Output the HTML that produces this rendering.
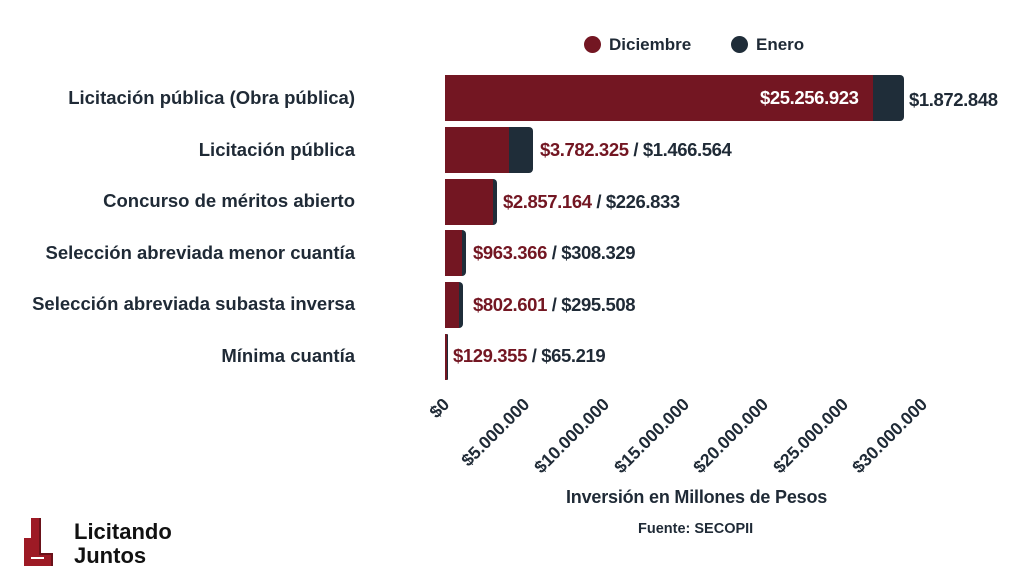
<!DOCTYPE html>
<html><head><meta charset="utf-8"><style>
body{margin:0;width:1024px;height:576px;background:#fff;font-family:"Liberation Sans",sans-serif;font-weight:bold;color:#1f2a36;position:relative;overflow:hidden}
.a{position:absolute;white-space:nowrap}
.lab{right:669px;font-size:18.5px;text-align:right}
.bar{position:absolute;left:445px;height:46px;background:#731622}
.en{position:absolute;height:46px;background:#1f2d39;border-radius:0 4px 4px 0}
.val{font-size:18.5px;letter-spacing:-0.4px}
.r{color:#731622}
.t{font-size:17.5px;transform-origin:100% 50%;transform:rotate(-45deg);text-align:right}
</style></head><body>
<div class="a" style="left:584px;top:36px;width:17px;height:17px;border-radius:50%;background:#731622"></div>
<div class="a" style="left:609px;top:35px;font-size:17px">Diciembre</div>
<div class="a" style="left:731px;top:36px;width:17px;height:17px;border-radius:50%;background:#1f2d39"></div>
<div class="a" style="left:756px;top:35px;font-size:17px">Enero</div>

<div class="a lab" style="top:87px">Licitación pública (Obra pública)</div>
<div class="a lab" style="top:139px">Licitación pública</div>
<div class="a lab" style="top:190px">Concurso de méritos abierto</div>
<div class="a lab" style="top:242px">Selección abreviada menor cuantía</div>
<div class="a lab" style="top:293px">Selección abreviada subasta inversa</div>
<div class="a lab" style="top:345px">Mínima cuantía</div>

<div class="bar" style="top:75px;width:428px"></div><div class="en" style="top:75px;left:873px;width:31px"></div>
<div class="a val" style="top:87px;left:760px;color:#fff">$25.256.923</div>
<div class="a val" style="top:89px;left:909px">$1.872.848</div>

<div class="bar" style="top:127px;width:64px"></div><div class="en" style="top:127px;left:509px;width:24px"></div>
<div class="a val" style="top:139px;left:540px"><span class="r">$3.782.325</span> / $1.466.564</div>

<div class="bar" style="top:179px;width:48px"></div><div class="en" style="top:179px;left:493px;width:4px"></div>
<div class="a val" style="top:191px;left:503px"><span class="r">$2.857.164</span> / $226.833</div>

<div class="bar" style="top:230px;width:17px"></div><div class="en" style="top:230px;left:462px;width:4px"></div>
<div class="a val" style="top:242px;left:473px"><span class="r">$963.366</span> / $308.329</div>

<div class="bar" style="top:282px;width:14px"></div><div class="en" style="top:282px;left:459px;width:4px"></div>
<div class="a val" style="top:294px;left:473px"><span class="r">$802.601</span> / $295.508</div>

<div class="bar" style="top:334px;width:2px"></div><div class="en" style="top:334px;left:447px;width:1px"></div>
<div class="a val" style="top:345px;left:453px"><span class="r">$129.355</span> / $65.219</div>

<div class="a t" style="right:578px;top:391px">$0</div>
<div class="a t" style="right:497px;top:391px">$5.000.000</div>
<div class="a t" style="right:418px;top:391px">$10.000.000</div>
<div class="a t" style="right:338px;top:391px">$15.000.000</div>
<div class="a t" style="right:259px;top:391px">$20.000.000</div>
<div class="a t" style="right:179px;top:391px">$25.000.000</div>
<div class="a t" style="right:100px;top:391px">$30.000.000</div>

<div class="a" style="left:566px;top:487px;font-size:18px;letter-spacing:-0.2px">Inversión en Millones de Pesos</div>
<div class="a" style="left:638px;top:521px;font-size:14.5px">Fuente: SECOPII</div>

<svg class="a" style="left:22px;top:516px" width="32" height="52" viewBox="0 0 32 52">
<path d="M9 2h9v36h12v12H2V22h7v21h13v-2H9z" fill="#9d1a25"/>
<path d="M18 2v36h12v12" fill="none" stroke="#6a121a" stroke-width="2"/>
</svg>
<div class="a" style="left:74px;top:520px;font-size:22px;line-height:24px;color:#111;font-weight:bold">Licitando<br>Juntos</div>
</body></html>
